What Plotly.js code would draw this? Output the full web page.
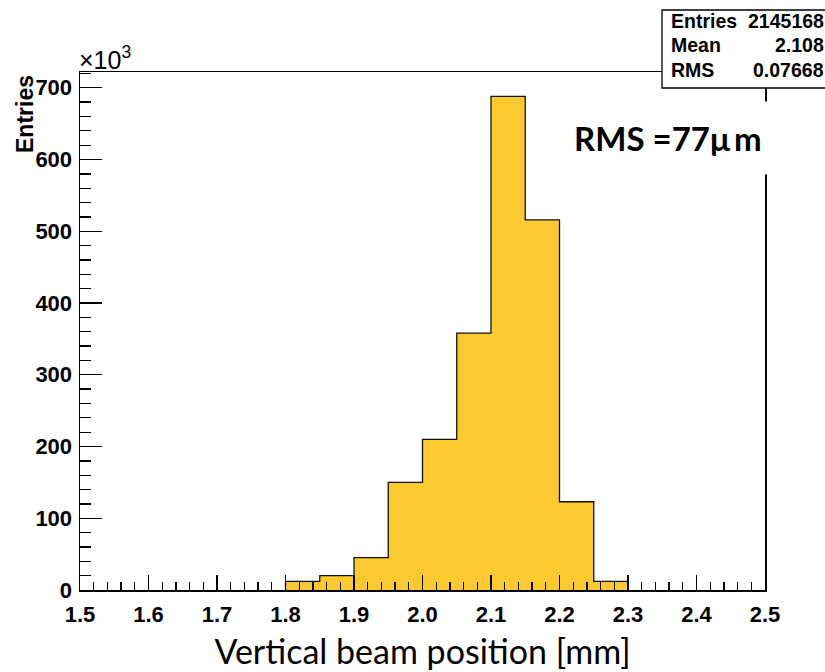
<!DOCTYPE html>
<html><head><meta charset="utf-8">
<script src="https://cdn.plot.ly/plotly-3.0.1.min.js"></script>
<style>html,body{margin:0;padding:0;background:#fff;}#chart{width:825px;height:672px;}</style>
</head><body><div id="chart"></div>
<script>
// bin edges (mm) and counts (x10^3)
const binLow = [1.80, 1.85, 1.90, 1.95, 2.00, 2.05, 2.10, 2.15, 2.20, 2.25];
const binWidth = 0.05;
const counts = [12, 20, 45, 150, 210, 358, 688, 516, 123, 12];
const statLabels = ["Entries", "Mean", "RMS"];
const statValues = ["2145168", "2.108", "0.07668"];

const centers = binLow.map(v => v + binWidth / 2);
const stepX = [binLow[0]].concat(binLow, [binLow[binLow.length - 1] + binWidth]);
const stepY = [0].concat(counts, [0]);

const fill = {
  type: 'bar', x: centers, y: counts, width: binWidth,
  marker: {color: '#FDC931', line: {width: 0}}, hoverinfo: 'skip', showlegend: false
};
const outline = {
  type: 'scatter', mode: 'lines', x: stepX, y: stepY,
  line: {shape: 'hv', color: '#111', width: 1.3}, hoverinfo: 'skip', showlegend: false
};

const L = 80, R = 765, T = 72, B = 590;
const px = v => (v - L) / (R - L);
const py = v => (B - v) / (B - T);

const bold = {family: 'Liberation Sans, Arial, sans-serif', size: 22, color: '#000', weight: 'bold'};
const annotations = [
  {xref: 'paper', yref: 'paper', x: px(77), y: py(58), xanchor: 'left', yanchor: 'middle',
   text: '×10<sup>3</sup>', showarrow: false, font: {family: 'Liberation Sans, Arial, sans-serif', size: 25, color: '#000'}},
  {xref: 'paper', yref: 'paper', x: px(25), y: py(73), xanchor: 'center', yanchor: 'top', textangle: -90,
   text: 'Entries', showarrow: false, font: {family: 'Liberation Sans, Arial, sans-serif', size: 23, color: '#000', weight: 'bold'}},
  {xref: 'paper', yref: 'paper', x: px(668), y: py(138), xanchor: 'center', yanchor: 'middle',
   text: 'RMS =77μ\u2009m', showarrow: false, bgcolor: '#fff', borderpad: 16,
   font: {family: 'Lato, Carlito, sans-serif', size: 33, color: '#000', weight: 'bold'}},
];
const rowsY = [21, 45, 70];
statLabels.forEach((s, i) => {
  annotations.push({xref: 'paper', yref: 'paper', x: px(669), y: py(rowsY[i]), xanchor: 'left', yanchor: 'middle',
    text: s, showarrow: false, font: {family: 'Liberation Sans, Arial, sans-serif', size: 19.5, color: '#000', weight: 'bold'}});
  annotations.push({xref: 'paper', yref: 'paper', x: px(826), y: py(rowsY[i]), xanchor: 'right', yanchor: 'middle',
    text: statValues[i], showarrow: false, font: {family: 'Liberation Sans, Arial, sans-serif', size: 19.5, color: '#000', weight: 'bold'}});
});

const layout = {
  width: 825, height: 672,
  margin: {l: L, r: 825 - R, t: T, b: 672 - B},
  paper_bgcolor: '#fff', plot_bgcolor: '#fff',
  bargap: 0,
  xaxis: {
    range: [1.5, 2.5], tick0: 1.5, dtick: 0.1, tickformat: '.1f',
    ticks: 'inside', ticklen: 15, tickwidth: 1.3, tickcolor: '#000',
    minor: {dtick: 0.02, ticks: 'inside', ticklen: 8, tickwidth: 1.3, tickcolor: '#000'},
    showline: true, mirror: true, linecolor: '#000', linewidth: 1.5,
    showgrid: false, zeroline: false, tickfont: bold, ticklabelstandoff: 4,
    title: {text: 'Vertical beam position [mm]', font: {family: 'Lato, Carlito, sans-serif', size: 34, color: '#000'}, standoff: 14}
  },
  yaxis: {
    range: [0, 722], tick0: 0, dtick: 100,
    ticks: 'inside', ticklen: 22, tickwidth: 1.3, tickcolor: '#000',
    minor: {dtick: 20, ticks: 'inside', ticklen: 11, tickwidth: 1.3, tickcolor: '#000'},
    showline: true, mirror: true, linecolor: '#000', linewidth: 1.5,
    showgrid: false, zeroline: false, tickfont: bold, ticklabelstandoff: 2
  },
  shapes: [
    {type: 'rect', xref: 'paper', yref: 'paper', x0: px(662), x1: px(860), y0: py(88), y1: py(10),
     fillcolor: '#fff', line: {color: '#000', width: 1.3}, layer: 'above'}
  ],
  annotations: annotations
};
Plotly.newPlot('chart', [fill, outline], layout, {displayModeBar: false, staticPlot: true});
</script></body></html>
